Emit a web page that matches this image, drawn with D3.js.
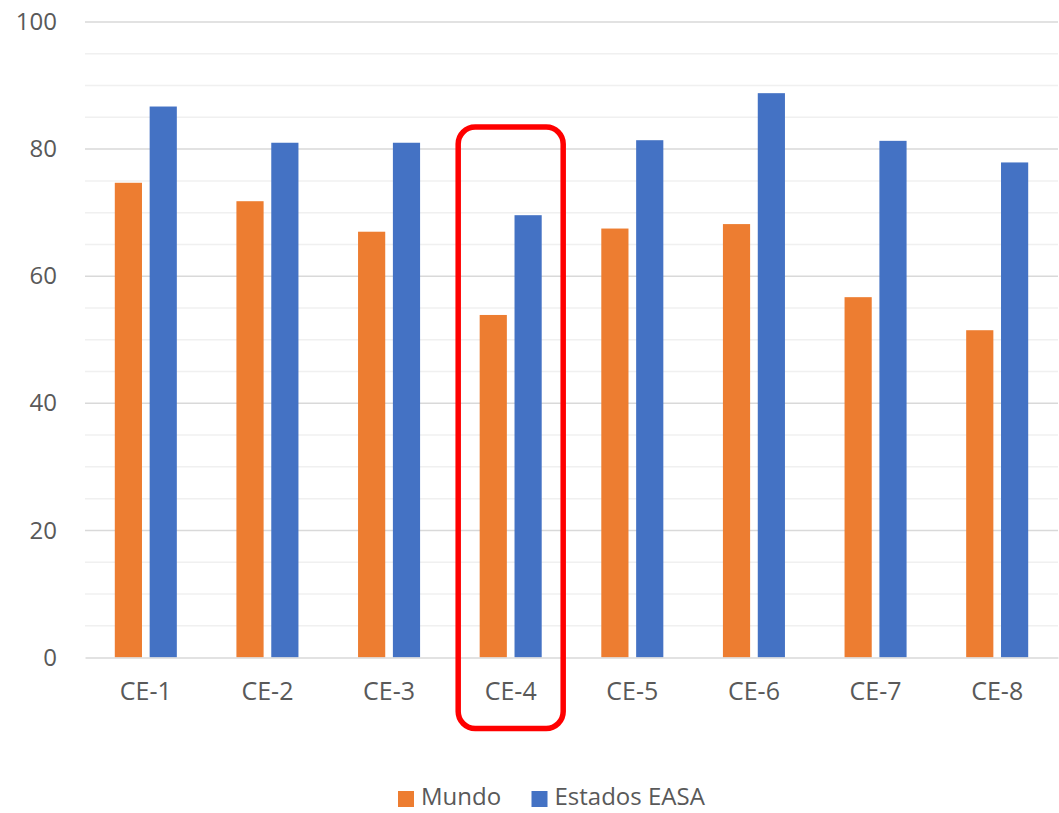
<!DOCTYPE html>
<html>
<head>
<meta charset="utf-8">
<script src="https://cdn.jsdelivr.net/npm/d3@7"></script>
<style>
  html, body { margin: 0; padding: 0; background: #fff; }
  svg { display: block; }
  text { font-family: "Open Sans", "Noto Sans", sans-serif; fill: #595959; }
</style>
</head>
<body>
<svg id="chart" width="1059" height="813"></svg>
<script>
// Categories and series values
const categories = ["CE-1", "CE-2", "CE-3", "CE-4", "CE-5", "CE-6", "CE-7", "CE-8"];
const seriesNames = ["Mundo", "Estados EASA"];
const mundo = [74.7, 71.8, 67.0, 53.9, 67.5, 68.2, 56.7, 51.5];
const estadosEasa = [86.7, 81.0, 81.0, 69.6, 81.4, 88.8, 81.3, 77.9];
const yTicks = [0, 20, 40, 60, 80, 100];
const yMinorTicks = [5, 10, 15, 25, 30, 35, 45, 50, 55, 65, 70, 75, 85, 90, 95];
const highlighted = "CE-4";

const colors = { "Mundo": "#ED7D31", "Estados EASA": "#4472C4" };

const rows = categories.map((c, i) => ({ category: c, values: [
  { name: seriesNames[0], value: mundo[i] },
  { name: seriesNames[1], value: estadosEasa[i] }
]}));

const svg = d3.select("#chart");
const margin = { left: 85, right: 1, top: 22, bottom: 155 };
const W = 1059, H = 813;

const x0 = d3.scaleBand().domain(categories)
  .range([margin.left, W - margin.right])
  .paddingInner(0.49).paddingOuter(0.245);
const x1 = d3.scaleBand().domain(seriesNames)
  .range([0, x0.bandwidth()])
  .paddingInner(0.22);
const y = d3.scaleLinear().domain([0, 100]).range([H - margin.bottom - 0.5, margin.top]);

// Minor gridlines
svg.append("g").selectAll("line").data(yMinorTicks).join("line")
  .attr("x1", margin.left).attr("x2", W - margin.right)
  .attr("y1", d => y(d)).attr("y2", d => y(d))
  .attr("stroke", "#f0f0f0").attr("stroke-width", 1.5);

// Major gridlines
svg.append("g").selectAll("line").data(yTicks.filter(d => d > 0)).join("line")
  .attr("x1", margin.left).attr("x2", W - margin.right)
  .attr("y1", d => y(d)).attr("y2", d => y(d))
  .attr("stroke", "#d9d9d9").attr("stroke-width", 1.5);

// Y axis labels
const yAxis = svg.append("g")
  .attr("transform", `translate(${margin.left},0)`)
  .call(d3.axisLeft(y).tickValues(yTicks).tickSize(0).tickPadding(28));
yAxis.select(".domain").remove();
yAxis.selectAll("text").style("font-size", "24px").attr("fill", "#595959");

// Bars
const groups = svg.append("g").selectAll("g").data(rows).join("g")
  .attr("transform", d => `translate(${x0(d.category)},0)`);
groups.selectAll("rect").data(d => d.values).join("rect")
  .attr("x", d => x1(d.name))
  .attr("width", x1.bandwidth())
  .attr("y", d => y(d.value))
  .attr("height", d => y(0) - y(d.value))
  .attr("fill", d => colors[d.name]);

// X axis line and labels
const xAxis = svg.append("g")
  .attr("transform", `translate(0,${y(0)})`)
  .call(d3.axisBottom(x0).tickSize(0).tickPadding(25));
xAxis.select(".domain").attr("stroke", "#d9d9d9").attr("stroke-width", 1.5);
xAxis.selectAll("text").style("font-size", "25px").attr("fill", "#595959");

// Highlight box around one category
const hc = x0(highlighted) + x0.bandwidth() / 2;
svg.append("rect")
  .attr("x", hc - 52.5).attr("y", 127)
  .attr("width", 105).attr("height", 601.5)
  .attr("rx", 17).attr("ry", 17)
  .attr("fill", "none").attr("stroke", "#ff0000").attr("stroke-width", 5.5);

// Legend
const legend = svg.append("g").attr("transform", "translate(0,798)");
const legendItems = [
  { name: seriesNames[0], x: 398 },
  { name: seriesNames[1], x: 531.5 }
];
legendItems.forEach(it => {
  legend.append("rect").attr("x", it.x).attr("y", -7).attr("width", 16).attr("height", 16)
    .attr("fill", colors[it.name]);
  legend.append("text").attr("x", it.x + 23).attr("y", 0).attr("dy", "0.3em")
    .style("font-size", "24px").text(it.name);
});
</script>
</body>
</html>
